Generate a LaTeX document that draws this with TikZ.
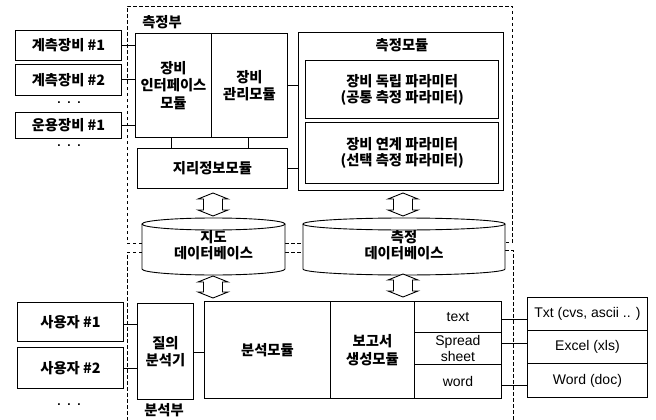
\documentclass[tikz,border=0pt]{standalone}
\usepackage{fontspec}
\setmainfont{Liberation Sans}
\newfontfamily\kr{Noto Sans CJK KR}
\usetikzlibrary{calc}
\tikzset{
  box/.style={draw, line width=0.9pt, fill=white, inner sep=0pt, align=center, anchor=north west,
    font=\kr\bfseries\fontsize{14.3}{17.5}\selectfont},
  latbox/.style={box, font=\fontsize{14}{15.5}\selectfont},
  parbox/.style={box, line width=1.3pt, font=\kr\bfseries\fontsize{14.3}{16}\selectfont},
  plain/.style={inner sep=0pt, align=center, font=\kr\bfseries\fontsize{14.3}{16.5}\selectfont},
  dotsn/.style={inner sep=0pt, font=\bfseries\fontsize{12}{12}\selectfont},
  conn/.style={line width=0.9pt},
  bound/.style={line width=0.9pt, dash pattern=on 3.5pt off 2.5pt},
  cyl/.style={line width=0.9pt},
  dbl/.style={line width=0.9pt, fill=white, line join=miter},
}
\newcommand\DArrow[2]{\draw[dbl] (#1) -- ($(#1)+(15,6)$) -- ($(#1)+(9.5,6)$) -- ($(#2)+(9.5,-6)$) -- ($(#2)+(15,-6)$) -- (#2) -- ($(#2)+(-15,-6)$) -- ($(#2)+(-9.5,-6)$) -- ($(#1)+(-9.5,6)$) -- ($(#1)+(-15,6)$) -- cycle;}
\newcommand\Cyl[4]{% cx, xleft, xright, rx
  \fill[white] (#2,224) rectangle (#3,269);
  \fill[white] (#1,269) ellipse[x radius=#4, y radius=6];
  \draw[cyl, fill=white] (#2,224) -- (#2,269) arc[start angle=180, end angle=0, x radius=#4, y radius=6] -- (#3,224);
  \draw[cyl] (#1,224) ellipse[x radius=#4, y radius=6];}
\begin{document}
\begin{tikzpicture}[x=1pt,y=-1pt]
\useasboundingbox (0,0) rectangle (656,420);
\fill[white] (0,0) rectangle (656,420);

% dashed region boundaries
\draw[bound] (142,243) -- (127,243) -- (127,6) -- (512,6) -- (512,242) -- (505,242);
\draw[bound] (285,243) -- (303,243);
\draw[bound] (142,252) -- (127,252) -- (127,430);
\draw[bound] (285,252) -- (303,252);
\draw[bound] (505,250) -- (513,250) -- (513,430);
\node[plain] (toplbl) at (162,22) {측정부};
\node[plain] (botlbl) at (164,410) {분석부};

% measurement part
\node[box, minimum width=106pt, minimum height=30pt] (dev1) at (15,30) {계측장비 \#1};
\node[box, minimum width=106pt, minimum height=31pt] (dev2) at (15,64) {계측장비 \#2};
\node[dotsn] (dots1) at (69,103) {.\ \ .\ \ .};
\node[box, minimum width=106pt, minimum height=26pt] (op1) at (15,112) {운용장비 \#1};
\node[dotsn] (dots2) at (69,146) {.\ \ .\ \ .};

\node[box, minimum width=76pt, minimum height=104pt] (ifm) at (135,33) {장비\\인터페이스\\모듈};
\node[box, minimum width=76pt, minimum height=104pt] (mgm) at (211,33) {장비\\관리모듈};
\node[box, minimum width=150pt, minimum height=40pt] (geo) at (137,148) {지리정보모듈};

\node[box, minimum width=205pt, minimum height=158pt] (meas) at (298,32) {};
\node[plain] (meastitle) at (402,45) {측정모듈};
\node[parbox, minimum width=193pt, minimum height=58pt] (p1) at (305,60) {장비 독립 파라미터\\(공통 측정 파라미터)};
\node[parbox, minimum width=193pt, minimum height=61pt] (p2) at (305,122) {장비 연계 파라미터\\(선택 측정 파라미터)};

\draw[conn] (dev1.east) -- (dev1.east -| ifm.west);
\draw[conn] (dev2.east) -- (dev2.east -| ifm.west);
\draw[conn] (op1.east) -- (op1.east -| ifm.west);
\draw[conn] ([xshift=-2pt]ifm.south) -- ([xshift=-2pt]ifm.south |- geo.north);
\draw[conn] ([xshift=-1pt]mgm.south) -- ([xshift=-1pt]mgm.south |- geo.north);
\draw[conn] (mgm.east) -- (mgm.east -| meas.west);
\draw[conn] (geo.east) -- (geo.east -| meas.west);

% databases
\Cyl{213.5}{142}{285}{71.5}
\Cyl{404}{303}{505}{101}
\node[plain] (mapdb) at (213.5,245) {지도\\데이터베이스};
\node[plain] (measdb) at (404,245) {측정\\데이터베이스};

\coordinate (a1t) at (213,193); \coordinate (a1b) at (213,216);
\coordinate (a2t) at (403,193); \coordinate (a2b) at (403,216);
\coordinate (a3t) at (213,276); \coordinate (a3b) at (213,298);
\coordinate (a4t) at (403,274); \coordinate (a4b) at (403,297);
\DArrow{a1t}{a1b}
\DArrow{a2t}{a2b}
\DArrow{a3t}{a3b}
\DArrow{a4t}{a4b}

% analysis part
\node[box, minimum width=106pt, minimum height=39pt] (u1) at (17,302) {사용자 \#1};
\node[box, minimum width=106pt, minimum height=41pt] (u2) at (17,347) {사용자 \#2};
\node[dotsn] (dots3) at (69,405) {.\ \ .\ \ .};
\node[box, minimum width=56pt, minimum height=96pt] (qa) at (137,303) {질의\\분석기};
\node[box, minimum width=126pt, minimum height=97pt] (anm) at (204,301) {분석모듈};
\node[box, minimum width=84pt, minimum height=97pt] (rpt) at (330,301) {보고서\\생성모듈};
\node[latbox, minimum width=87pt, minimum height=31pt] (ftext) at (414,301) {text};
\node[latbox, minimum width=87pt, minimum height=32pt] (fss) at (414,332) {Spread\\sheet};
\node[latbox, minimum width=87pt, minimum height=34pt] (fword) at (414,364) {word};
\node[latbox, minimum width=120pt, minimum height=33pt] (otxt) at (527,297) {Txt (cvs, ascii .. )};
\node[latbox, minimum width=120pt, minimum height=33pt] (oxls) at (527,330) {Excel (xls)};
\node[latbox, minimum width=120pt, minimum height=34pt] (odoc) at (527,363) {Word (doc)};

\draw[conn] ([yshift=-2pt]u1.east) -- ([yshift=-2pt]u1.east -| qa.west);
\draw[conn] (u2.east) -- (u2.east -| qa.west);
\draw[conn] ([yshift=-1pt]qa.east) -- ([yshift=-1pt]qa.east -| anm.west);
\draw[conn] ([yshift=-2.5pt]ftext.east) -- ([yshift=-2.5pt]ftext.east -| otxt.west);
\draw[conn] ([yshift=5pt]fss.east) -- ([yshift=5pt]fss.east -| oxls.west);
\draw[conn] ([yshift=-4pt]fword.east) -- ([yshift=-4pt]fword.east -| odoc.west);
\end{tikzpicture}
\end{document}
